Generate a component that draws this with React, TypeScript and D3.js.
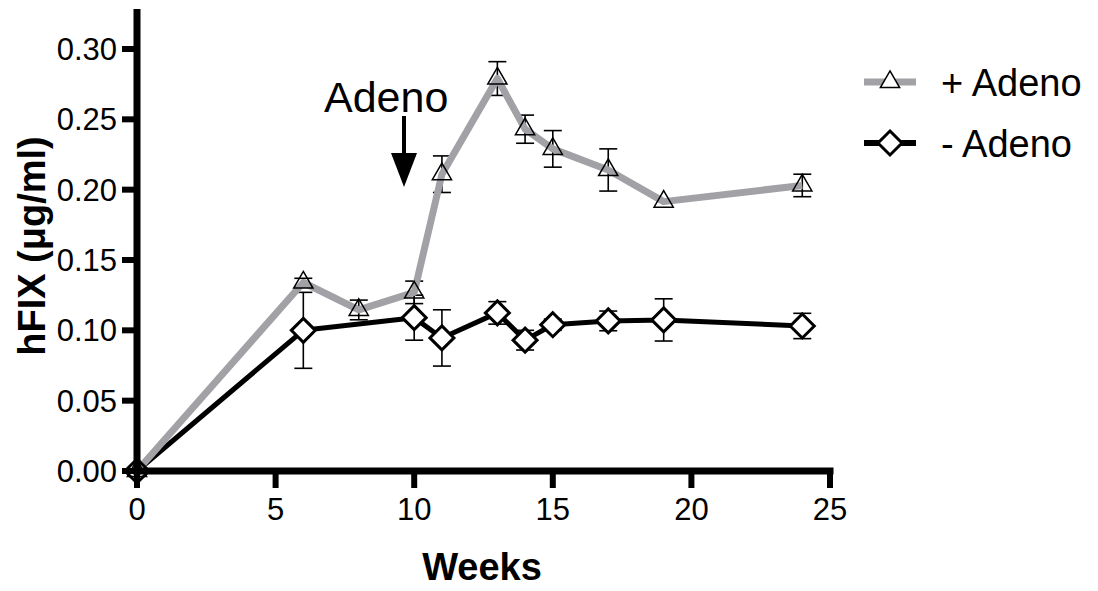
import React from "react";
import * as d3 from "d3";

const weeksPlus = [0, 6, 8, 10, 11, 13, 14, 15, 17, 19, 24];
const plusAdeno = [0, 0.134, 0.1145, 0.127, 0.211, 0.279, 0.243, 0.229, 0.214, 0.1915, 0.203];
const plusErr = [0, 0.003, 0.007, 0.008, 0.013, 0.012, 0.010, 0.013, 0.015, 0.002, 0.008];

const weeksMinus = [0, 6, 10, 11, 13, 14, 15, 17, 19, 24];
const minusAdeno = [0, 0.100, 0.109, 0.0946, 0.1124, 0.093, 0.104, 0.1067, 0.1074, 0.1031];
const minusErr = [0, 0.027, 0.016, 0.020, 0.008, 0.007, 0.004, 0.007, 0.015, 0.009];

const xTicks = [0, 5, 10, 15, 20, 25];
const yTicks = [0, 0.05, 0.1, 0.15, 0.2, 0.25, 0.3];
const seriesNames = ["+ Adeno", "- Adeno"];

const W = 1098;
const H = 591;
const FONT = "Liberation Sans, Arial, Helvetica, sans-serif";
const GREY = "#a2a2a6";

export default function App() {
  const x = d3.scaleLinear().domain([0, 25]).range([137, 830]);
  const y = d3.scaleLinear().domain([0, 0.3]).range([471, 49]);
  const yTop = y(0.326);

  const line = d3
    .line<[number, number]>()
    .x((d) => x(d[0]))
    .y((d) => y(d[1]));

  const plusPts: [number, number][] = weeksPlus.map((w, i) => [w, plusAdeno[i]]);
  const minusPts: [number, number][] = weeksMinus.map((w, i) => [w, minusAdeno[i]]);

  const tri = d3.symbol().type(d3.symbolTriangle).size(160)() as string;
  const dia = (r: number) => `M0,${-r}L${r},0L0,${r}L${-r},0Z`;

  const errBar = (w: number, v: number, e: number, key: string) => {
    if (e <= 0.0025) return null;
    const cx = x(w);
    const y1 = y(v + e);
    const y2 = y(v - e);
    return (
      <g key={key} stroke="#000" strokeWidth={1.6}>
        <line x1={cx} x2={cx} y1={y1} y2={y2} />
        <line x1={cx - 9} x2={cx + 9} y1={y1} y2={y1} />
        <line x1={cx - 9} x2={cx + 9} y1={y2} y2={y2} />
      </g>
    );
  };

  return (
    <svg
      width={W}
      height={H}
      style={{ position: "absolute", left: 0, top: 0, background: "#fff" }}
      fontFamily={FONT}
    >
      {/* error bars */}
      {weeksMinus.map((w, i) => errBar(w, minusAdeno[i], minusErr[i], "em" + i))}
      {weeksPlus.map((w, i) => errBar(w, plusAdeno[i], plusErr[i], "ep" + i))}

      {/* lines */}
      <path d={line(minusPts) as string} fill="none" stroke="#000" strokeWidth={5} strokeLinejoin="round" />
      <path d={line(plusPts) as string} fill="none" stroke={GREY} strokeWidth={7} strokeLinejoin="round" />

      {/* markers */}
      {minusPts.map((p, i) => (
        <path
          key={"dm" + i}
          d={dia(12)}
          transform={`translate(${x(p[0])},${y(p[1])})`}
          fill="#fff"
          stroke="#000"
          strokeWidth={3}
        />
      ))}
      {plusPts.map((p, i) => (
        <path
          key={"tp" + i}
          d={tri}
          transform={`translate(${x(p[0])},${y(p[1])})`}
          fill="none"
          stroke="#000"
          strokeWidth={1.5}
        />
      ))}

      {/* axes */}
      <g stroke="#000" strokeWidth={7} strokeLinecap="square">
        <line x1={x(0)} x2={x(0)} y1={yTop} y2={y(0)} />
        <line x1={x(0)} x2={x(25)} y1={y(0)} y2={y(0)} />
        {yTicks.map((t) => (
          <line key={"yt" + t} x1={x(0) - 15} x2={x(0)} y1={y(t)} y2={y(t)} strokeWidth={6} strokeLinecap="butt" />
        ))}
        {xTicks.map((t) => (
          <line key={"xt" + t} x1={x(t)} x2={x(t)} y1={y(0)} y2={y(0) + 17} strokeWidth={6} strokeLinecap="butt" />
        ))}
      </g>
      {yTicks.map((t) => (
        <text key={"yl" + t} x={117} y={y(t)} dy="0.36em" textAnchor="end" fontSize={31} fill="#000">
          {t.toFixed(2)}
        </text>
      ))}
      {xTicks.map((t) => (
        <text key={"xl" + t} x={x(t)} y={520} textAnchor="middle" fontSize={31} fill="#000">
          {t}
        </text>
      ))}

      {/* axis titles */}
      <text x={482} y={580} textAnchor="middle" fontSize={38} fontWeight="bold" fill="#000">
        Weeks
      </text>
      <text
        transform={`translate(45,246) rotate(-90)`}
        textAnchor="middle"
        fontSize={38}
        fontWeight="bold"
        fill="#000"
      >
        hFIX (μg/ml)
      </text>

      {/* annotation */}
      <text x={324} y={112} fontSize={43} fill="#000">
        Adeno
      </text>
      <line x1={404} x2={404} y1={116} y2={156} stroke="#000" strokeWidth={4} />
      <path d="M391,153L417,153L404,187Z" fill="#000" />

      {/* legend */}
      <g>
        <line x1={864} x2={916} y1={82} y2={82} stroke={GREY} strokeWidth={7} />
        <path d={tri} transform="translate(890,82)" fill="#fff" stroke="#000" strokeWidth={1.5} />
        <text x={941} y={96} fontSize={38} fill="#000">
          {seriesNames[0]}
        </text>
        <line x1={864} x2={916} y1={143} y2={143} stroke="#000" strokeWidth={6} />
        <path d={dia(12)} transform="translate(890,143)" fill="#fff" stroke="#000" strokeWidth={3} />
        <text x={941} y={157} fontSize={38} fill="#000">
          {seriesNames[1]}
        </text>
      </g>
    </svg>
  );
}
